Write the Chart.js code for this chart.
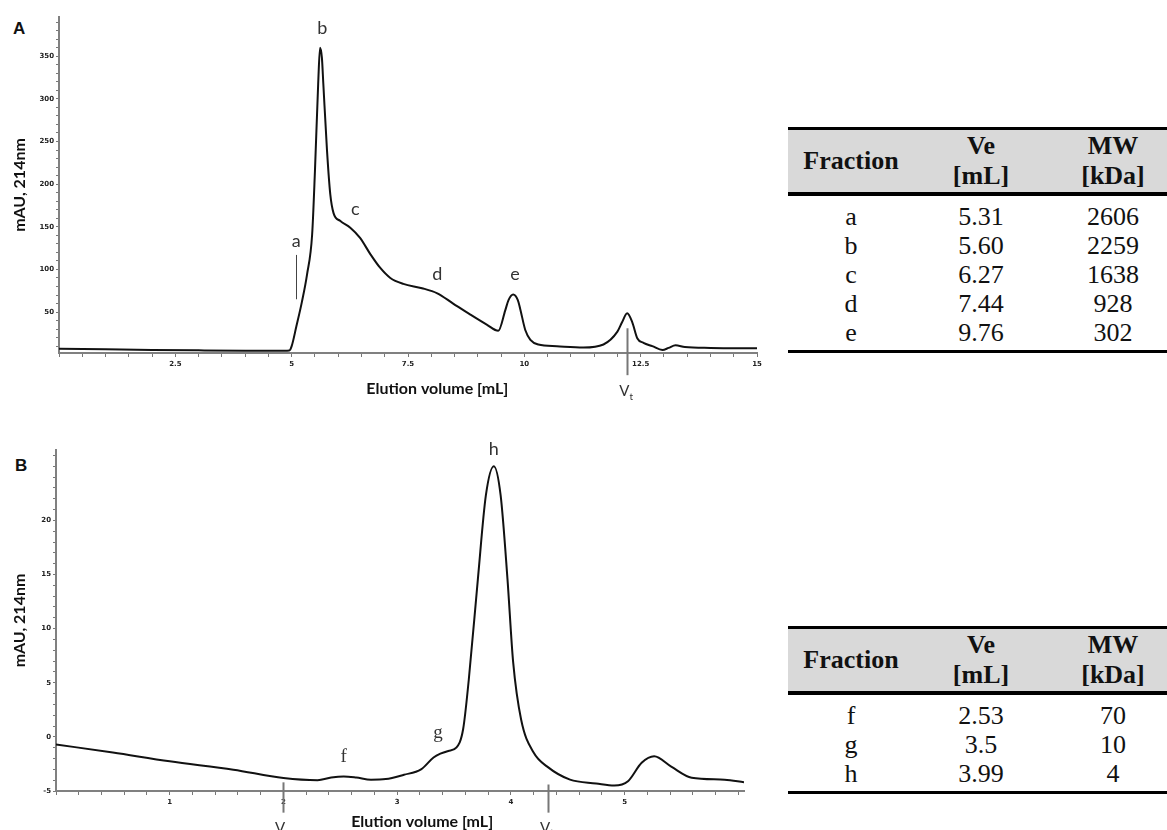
<!DOCTYPE html>
<html>
<head>
<meta charset="utf-8">
<script src="https://cdn.jsdelivr.net/npm/chart.js@4"></script>
<style>
  html, body { margin: 0; padding: 0; background: #fff; }
  body { width: 1167px; height: 830px; position: relative; overflow: hidden; }
  canvas { position: absolute; left: 0; }
  #chartA { top: 0; }
  #chartB { top: 430px; }
  .panel { position: absolute; font: bold 17px "Liberation Sans", Arial, sans-serif; color: #111; }
  table.frac {
    position: absolute; left: 788px; width: 379px;
    border-collapse: separate; border-spacing: 0;
    border-top: 3px solid #000; border-bottom: 3px solid #000;
    font-family: "Liberation Serif", "Times New Roman", serif; font-size: 26px; color: #111;
  }
  table.frac th { background: #d9d9d9; line-height: 30px; padding: 1px 0; border-bottom: 4px solid #000; font-weight: bold; text-align: center; }
  table.frac td { line-height: 29px; padding: 0; text-align: center; }
  table.frac tr.first td { padding-top: 6px; }
  table.frac tr.last td { padding-bottom: 3px; }
  table.frac .c1 { width: 126px; }
  table.frac .c2 { width: 134px; }
  table.frac .c3 { width: 108px; padding-left: 11px; }
</style>
</head>
<body>
<div class="panel" style="left:13px; top:19px;">A</div>
<div class="panel" style="left:15px; top:456px;">B</div>
<canvas id="chartA" width="770" height="420"></canvas>
<canvas id="chartB" width="770" height="400"></canvas>
<table class="frac" id="tableA" style="top:127px;"></table>
<table class="frac" id="tableB" style="top:626px;"></table>

<script>
// chromatogram A
const aVolume = [0, 1, 2, 3, 4, 4.7, 4.95, 5.0, 5.1, 5.22, 5.33, 5.44, 5.5, 5.57, 5.61, 5.65, 5.68, 5.76, 5.83, 5.9,
  6.04, 6.26, 6.47, 6.69, 6.9, 7.12, 7.4, 7.8, 8.13, 8.47, 8.84, 9.2, 9.44, 9.59, 9.66, 9.76, 9.86, 9.91, 10.02, 10.13,
  10.3, 10.7, 11.27, 11.7, 12.0, 12.1, 12.21, 12.32, 12.43, 12.56, 12.75, 12.97, 13.1, 13.25, 13.45, 14, 15];
const aAbsorbance = [7, 6.3, 5.6, 5.1, 4.7, 4.6, 5, 10, 33, 62, 94, 141, 215, 318, 360, 348, 318, 239, 188, 166,
  157, 149, 137, 118, 102, 90, 83, 78, 72, 60, 47, 35, 28, 52, 64, 70.5, 64, 54, 29, 17.5,
  12, 10, 8.5, 12, 27, 38, 48.5, 38, 19, 14, 10, 5.5, 8, 11, 9, 8, 7.5];

// chromatogram B
const bVolume = [0, 0.5, 1, 1.56, 2, 2.3, 2.42, 2.53, 2.64, 2.77, 2.9, 3.06, 3.21, 3.32, 3.38, 3.45, 3.52, 3.58, 3.63, 3.71,
  3.78, 3.85, 3.91, 3.97, 4.02, 4.09, 4.2, 4.32, 4.52, 4.75, 4.91, 5.03, 5.15, 5.26, 5.41, 5.59, 5.88, 6.05];
const bAbsorbance = [-0.7, -1.45, -2.26, -3.03, -3.8, -4.0, -3.75, -3.65, -3.75, -3.95, -3.9, -3.5, -3.0, -1.9, -1.55, -1.3, -1.0, 0.7, 5.3, 14.6,
  22.3, 25.0, 22.3, 14.6, 6.9, 1.6, -1.45, -2.75, -3.95, -4.3, -4.5, -4.1, -2.4, -1.8, -2.75, -3.77, -3.95, -4.2];

// tick labels
const aXLabels = [2.5, 5, 7.5, 10, 12.5, 15];
const aYLabels = [50, 100, 150, 200, 250, 300, 350];
const bXLabels = [1, 2, 3, 4, 5];
const bYLabels = [-5, 0, 5, 10, 15, 20];

// tables
const fractionsA = ['a', 'b', 'c', 'd', 'e'];
const veA = ['5.31', '5.60', '6.27', '7.44', '9.76'];
const mwA = ['2606', '2259', '1638', '928', '302'];
const fractionsB = ['f', 'g', 'h'];
const veB = ['2.53', '3.5', '3.99'];
const mwB = ['70', '10', '4'];

function fillTable(id, names, ve, mw) {
  let html = '<tr><th class="c1">Fraction</th><th class="c2">Ve<br>[mL]</th><th class="c3">MW<br>[kDa]</th></tr>';
  names.forEach((n, i) => {
    let cls = i === 0 ? 'first' : '';
    if (i === names.length - 1) cls += ' last';
    html += `<tr class="${cls}"><td class="c1">${n}</td><td class="c2">${ve[i]}</td><td class="c3">${mw[i]}</td></tr>`;
  });
  document.getElementById(id).innerHTML = html;
}
fillTable('tableA', fractionsA, veA, mwA);
fillTable('tableB', fractionsB, veB, mwB);

const toPoints = (xs, ys) => xs.map((x, i) => ({x: x, y: ys[i]}));

function minorTicks(step) {
  return (scale) => {
    const ticks = [];
    const first = Math.ceil(scale.min / step - 1e-9);
    const last = Math.floor(scale.max / step + 1e-9);
    for (let i = first; i <= last; i++) ticks.push({value: Math.round(i * step * 1000) / 1000});
    scale.ticks = ticks;
  };
}

const tickFont = {family: 'DejaVu Sans', size: 7, weight: 'bold'};
const sans = '"Lato", "Open Sans", sans-serif';

// letters, marker lines and the x title, placed on the data scales
const marksPlugin = {
  id: 'marks',
  afterDatasetsDraw(chart, args, opts) {
    const ctx = chart.ctx;
    const xs = chart.scales.x, ys = chart.scales.y;
    ctx.save();
    (opts.lines || []).forEach(l => {
      const px = Math.round(xs.getPixelForValue(l.x)) + 0.5;
      ctx.strokeStyle = l.color;
      ctx.lineWidth = l.width;
      ctx.beginPath();
      ctx.moveTo(px, ys.getPixelForValue(l.from));
      ctx.lineTo(px, ys.getPixelForValue(l.to));
      ctx.stroke();
    });
    ctx.textAlign = 'center';
    ctx.textBaseline = 'middle';
    (opts.letters || []).forEach(t => {
      const px = xs.getPixelForValue(t.x), py = ys.getPixelForValue(t.y);
      ctx.font = t.font;
      ctx.fillStyle = '#333';
      ctx.fillText(t.text, px, py);
      if (t.sub) {
        ctx.font = '10px ' + sans;
        ctx.fillText(t.sub, px + 7, py + 5);
      }
    });
    if (opts.xTitle) {
      ctx.font = 'bold 16px ' + sans;
      ctx.fillStyle = '#111';
      ctx.fillText(opts.xTitle.text, xs.getPixelForValue(opts.xTitle.x), xs.bottom - xs.height + opts.xTitle.dy);
    }
    ctx.restore();
  }
};

function makeOptions(cfg) {
  return {
    responsive: false,
    animation: false,
    events: [],
    layout: {padding: cfg.padding},
    plugins: {legend: {display: false}, tooltip: {enabled: false}, marks: cfg.marks},
    scales: {
      x: {
        type: 'linear', min: cfg.xMin, max: cfg.xMax,
        afterBuildTicks: minorTicks(cfg.xStep),
        afterFit: s => { s.height = cfg.xHeight; },
        grid: {drawOnChartArea: false, drawTicks: true, tickLength: 4, color: '#777', lineWidth: 1},
        border: {color: '#808080', width: 2},
        ticks: {
          autoSkip: false, maxRotation: 0, padding: 3, color: '#222', font: tickFont,
          callback: v => cfg.xLabels.includes(v) ? String(v) : ''
        }
      },
      y: {
        type: 'linear', min: cfg.yMin, max: cfg.yMax,
        afterBuildTicks: minorTicks(cfg.yStep),
        afterFit: s => { s.width = cfg.yWidth; },
        grid: {drawOnChartArea: false, drawTicks: true, tickLength: 3, color: '#777', lineWidth: 1},
        border: {color: '#808080', width: 2},
        title: {display: true, text: 'mAU, 214nm', color: '#111', padding: {top: 10, bottom: 0},
          font: {family: 'Lato', size: 16, weight: 'bold'}},
        ticks: {
          autoSkip: false, padding: 2, color: '#222', font: tickFont,
          callback: v => cfg.yLabels.includes(v) ? String(v) : ''
        }
      }
    }
  };
}

const lineStyle = {
  borderColor: '#111', borderWidth: 2, pointRadius: 0, fill: false,
  cubicInterpolationMode: 'monotone'
};

new Chart(document.getElementById('chartA'), {
  type: 'line',
  data: {datasets: [Object.assign({data: toPoints(aVolume, aAbsorbance)}, lineStyle)]},
  options: makeOptions({
    padding: {left: 0, top: 17, right: 13, bottom: 0},
    xMin: 0, xMax: 15, xStep: 0.5, xLabels: aXLabels, xHeight: 67,
    yMin: 2, yMax: 396, yStep: 10, yLabels: aYLabels, yWidth: 59,
    marks: {
      lines: [
        {x: 5.1, from: 65, to: 117, color: '#444', width: 1},
        {x: 12.2, from: 31, to: -24, color: '#777', width: 2}
      ],
      letters: [
        {text: 'a', x: 5.1, y: 133, font: '18px ' + sans},
        {text: 'b', x: 5.66, y: 383, font: '18px ' + sans},
        {text: 'c', x: 6.37, y: 171, font: '18px ' + sans},
        {text: 'd', x: 8.13, y: 95, font: '18px ' + sans},
        {text: 'e', x: 9.8, y: 94, font: '18px ' + sans},
        {text: 'V', sub: 't', x: 12.15, y: -43, font: '15px ' + sans}
      ],
      xTitle: {text: 'Elution volume [mL]', x: 8.13, dy: 36}
    }
  }),
  plugins: [marksPlugin]
});

new Chart(document.getElementById('chartB'), {
  type: 'line',
  data: {datasets: [Object.assign({data: toPoints(bVolume, bAbsorbance)}, lineStyle)]},
  options: makeOptions({
    padding: {left: 0, top: 20, right: 26, bottom: 0},
    xMin: 0, xMax: 6.05, xStep: 0.2, xLabels: bXLabels, xHeight: 39,
    yMin: -5, yMax: 26.5, yStep: 1, yLabels: bYLabels, yWidth: 56,
    marks: {
      lines: [
        {x: 2.0, from: -4.2, to: -7.0, color: '#777', width: 2},
        {x: 4.33, from: -4.4, to: -7.0, color: '#777', width: 2}
      ],
      letters: [
        {text: 'f', x: 2.53, y: -1.9, font: '19px "Liberation Serif", serif'},
        {text: 'g', x: 3.36, y: 0.4, font: '19px "Liberation Serif", serif'},
        {text: 'h', x: 3.85, y: 26.6, font: '18px ' + sans},
        {text: 'V', sub: 'o', x: 1.97, y: -8.4, font: '15px ' + sans},
        {text: 'V', sub: 't', x: 4.3, y: -8.4, font: '15px ' + sans}
      ],
      xTitle: {text: 'Elution volume [mL]', x: 3.22, dy: 31}
    }
  }),
  plugins: [marksPlugin]
});
</script>
</body>
</html>
